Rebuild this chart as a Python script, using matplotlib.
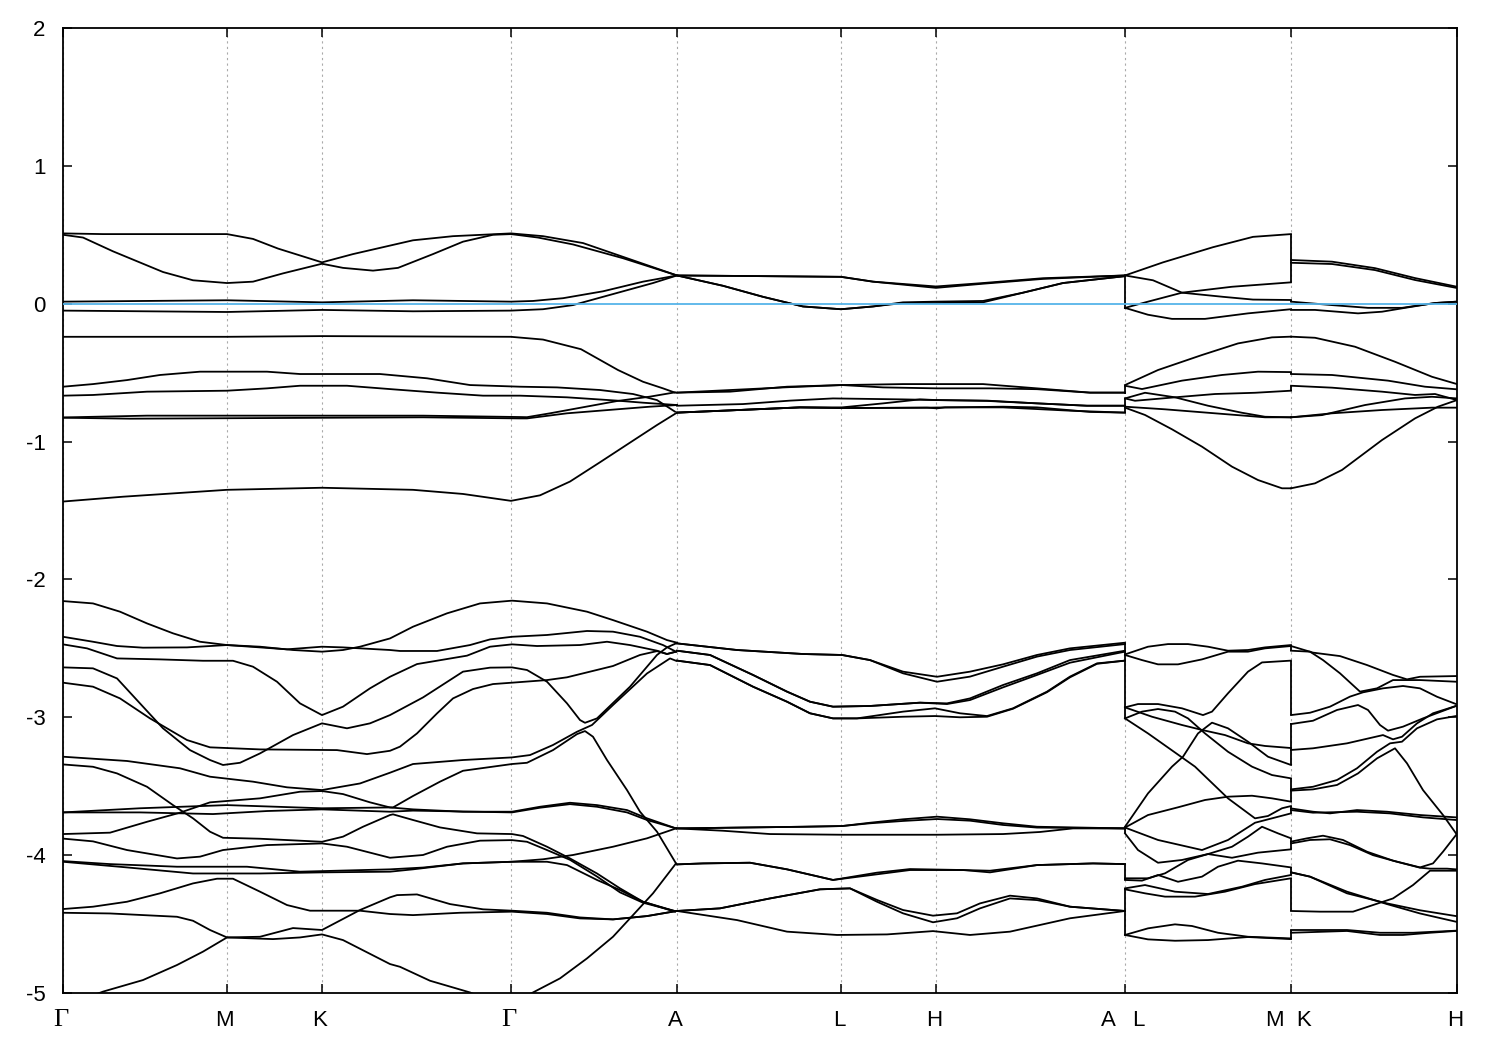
import matplotlib
matplotlib.use("Agg")
import matplotlib.pyplot as plt

# k is distance along the path, E is energy in eV
tick_k = [0, 164, 259, 448, 614, 778, 873, 1062, 1228, 1394]
tick_labels = ["Γ", "M", "K", "Γ", "A", "L", "H", "A   L", "M  K", "H"]
y_ticks = [2, 1, 0, -1, -2, -3, -4, -5]

# %% Top group, Gamma to A|L
a1_k = [0, 40, 164, 190, 215, 259, 290, 320, 350, 390, 448, 480, 520, 560, 614, 700, 778, 810, 873, 920, 980, 1062]
a1_e = [.51, .505, .505, .47, .40, .30, .36, .41, .46, .49, .51, .49, .44, .34, .205, .20, .195, .16, .115, .145, .18, .205]
a2_k = [0, 20, 50, 100, 130, 164, 190, 220, 259, 280, 310, 335, 370, 400, 430, 448, 475, 510, 560, 614, 660, 700, 740, 778, 810, 840, 873, 920, 960, 1000, 1062]
a2_e = [.50, .48, .38, .23, .17, .15, .16, .22, .29, .26, .24, .26, .36, .45, .50, .505, .48, .43, .33, .205, .13, .05, -.02, -.04, -.02, .01, .015, .02, .08, .15, .2]
a3_k = [0, 164, 259, 350, 448, 470, 500, 540, 580, 614, 700, 778, 810, 873, 920, 980, 1062]
a3_e = [.015, .025, .01, .025, .015, .02, .04, .09, .16, .205, .2, .195, .16, .125, .15, .185, .205]
a4_k = [0, 164, 259, 350, 448, 480, 510, 550, 590, 614, 660, 700, 740, 778, 810, 840, 873, 920, 960, 1000, 1062]
a4_e = [-.05, -.06, -.045, -.055, -.05, -.04, -.01, .07, .15, .205, .13, .05, -.02, -.04, -.02, .005, .005, .01, .08, .15, .2]

# top group, L to M
t1_k = [1062, 1100, 1150, 1190, 1228]
t1_e = [.205, .3, .41, .485, .505]
t2_k = [1062, 1090, 1119, 1160, 1190, 1228]
t2_e = [.205, .17, .08, .05, .03, .027]
t3_k = [1062, 1085, 1119, 1169, 1228]
t3_e = [-.03, .015, .08, .123, .155]
t4_k = [1062, 1085, 1109, 1142, 1185, 1228]
t4_e = [-.03, -.08, -.11, -.11, -.07, -.04]

# top group, K to H
u1_k = [1228, 1269, 1312, 1352, 1394]
u1_e = [.317, .305, .258, .186, .123]
u2_k = [1228, 1269, 1312, 1352, 1394]
u2_e = [.297, .288, .244, .172, .114]
u3_k = [1228, 1269, 1305, 1339, 1372, 1394]
u3_e = [.015, -.01, -.03, -.03, .005, .015]
u4_k = [1228, 1252, 1295, 1319, 1342, 1372, 1394]
u4_e = [-.045, -.045, -.07, -.058, -.03, .005, .015]

# %% Second group, Gamma to A
b1_k = [0, 164, 259, 448, 480, 518, 555, 580, 600, 612]
b1_e = [-.24, -.24, -.235, -.24, -.26, -.33, -.481, -.566, -.614, -.645]
b2_k = [0, 30, 64, 97, 137, 204, 237, 317, 364, 407, 457, 494, 537, 570, 594, 612]
b2_e = [-.602, -.583, -.554, -.517, -.493, -.493, -.51, -.51, -.541, -.59, -.602, -.607, -.626, -.655, -.699, -.783]
b3_k = [0, 30, 84, 164, 204, 237, 284, 330, 374, 420, 457, 504, 554, 580, 614]
b3_e = [-.667, -.662, -.638, -.631, -.614, -.595, -.595, -.621, -.645, -.667, -.667, -.679, -.703, -.718, -.735]
b4_k = [0, 84, 360, 457, 464, 487, 554, 587, 612]
b4_e = [-.825, -.812, -.812, -.822, -.823, -.795, -.706, -.674, -.643]
b5_k = [0, 67, 360, 457, 464, 504, 554, 587, 614]
b5_e = [-.827, -.834, -.824, -.832, -.832, -.795, -.766, -.747, -.735]
b6_k = [0, 60, 164, 259, 350, 400, 448, 477, 507, 537, 572, 594, 614]
b6_e = [-1.435, -1.40, -1.35, -1.335, -1.35, -1.38, -1.43, -1.39, -1.29, -1.15, -.984, -.88, -.79]

# second group, A to A
c1_k = [614, 667, 724, 779, 840, 874, 920, 974, 1027, 1062]
c1_e = [-.645, -.638, -.602, -.59, -.583, -.583, -.583, -.614, -.645, -.645]
c2_k = [614, 724, 779, 820, 874, 927, 974, 1027, 1062]
c2_e = [-.645, -.606, -.59, -.607, -.614, -.614, -.62, -.645, -.645]
c3_k = [614, 680, 727, 770, 840, 874, 924, 974, 1024, 1062]
c3_e = [-.74, -.728, -.703, -.687, -.694, -.699, -.703, -.723, -.74, -.74]
c4_k = [614, 660, 737, 779, 820, 857, 874, 924, 940, 1024, 1062]
c4_e = [-.79, -.776, -.752, -.752, -.723, -.694, -.699, -.705, -.711, -.74, -.74]
c5_k = [614, 660, 737, 779, 864, 874, 882, 940, 1007, 1062]
c5_e = [-.79, -.776, -.752, -.757, -.754, -.759, -.752, -.752, -.776, -.79]
c6_k = [614, 660, 737, 779, 864, 940, 974, 1027, 1062]
c6_e = [-.79, -.776, -.752, -.757, -.754, -.747, -.752, -.785, -.79]

# second group, L to M
g1_k = [1062, 1095, 1139, 1175, 1209, 1228]
g1_e = [-.59, -.481, -.372, -.288, -.244, -.239]
g2_k = [1062, 1079, 1119, 1159, 1195, 1228]
g2_e = [-.595, -.619, -.558, -.517, -.493, -.496]
g3_k = [1062, 1082, 1112, 1145, 1179, 1202, 1228]
g3_e = [-.687, -.646, -.679, -.74, -.791, -.82, -.824]
g4_k = [1062, 1072, 1112, 1152, 1192, 1228]
g4_e = [-.687, -.704, -.679, -.655, -.646, -.631]
g5_k = [1062, 1102, 1152, 1202, 1228]
g5_e = [-.747, -.766, -.795, -.824, -.824]
g6_k = [1062, 1082, 1109, 1139, 1169, 1195, 1219, 1228]
g6_e = [-.754, -.807, -.911, -1.037, -1.182, -1.279, -1.339, -1.339]

# second group, K to H
h1_k = [1228, 1252, 1292, 1332, 1369, 1394]
h1_e = [-.239, -.247, -.312, -.421, -.53, -.583]
h2_k = [1228, 1269, 1325, 1362, 1394]
h2_e = [-.51, -.517, -.558, -.602, -.621]
h3_k = [1228, 1269, 1319, 1352, 1372, 1394]
h3_e = [-.595, -.609, -.638, -.662, -.655, -.699]
h4_k = [1228, 1259, 1302, 1342, 1369, 1394]
h4_e = [-.824, -.808, -.735, -.687, -.675, -.687]
h5_k = [1228, 1269, 1319, 1369, 1394]
h5_e = [-.824, -.795, -.771, -.754, -.754]
h6_k = [1228, 1252, 1279, 1319, 1352, 1375, 1394]
h6_e = [-1.339, -1.303, -1.206, -.989, -.832, -.747, -.699]

# %% Lower bands, Gamma to A
d1_k = [0, 30, 57, 84, 110, 137, 164, 197, 230, 259, 280, 297, 327, 350, 384, 417, 449, 484, 524, 550, 584, 604, 614]
d1_e = [-2.157, -2.174, -2.234, -2.319, -2.391, -2.452, -2.476, -2.488, -2.512, -2.524, -2.512, -2.488, -2.428, -2.343, -2.246, -2.174, -2.154, -2.174, -2.234, -2.295, -2.379, -2.44, -2.459]
d2_k = [0, 30, 54, 80, 124, 164, 197, 224, 259, 280, 327, 337, 374, 407, 427, 449, 484, 524, 550, 577, 600, 613]
d2_e = [-2.416, -2.452, -2.483, -2.495, -2.493, -2.476, -2.493, -2.507, -2.488, -2.493, -2.512, -2.519, -2.519, -2.476, -2.435, -2.416, -2.403, -2.374, -2.379, -2.416, -2.476, -2.524]
d3_k = [0, 24, 54, 97, 140, 170, 190, 214, 237, 259, 280, 307, 327, 354, 404, 427, 449, 474, 517, 544, 567, 594, 604, 613]
d3_e = [-2.471, -2.5, -2.573, -2.58, -2.59, -2.59, -2.633, -2.742, -2.899, -2.984, -2.923, -2.79, -2.706, -2.614, -2.553, -2.488, -2.471, -2.483, -2.476, -2.452, -2.476, -2.517, -2.541, -2.524]
d4_k = [0, 30, 54, 80, 100, 127, 147, 160, 177, 197, 230, 259, 284, 307, 327, 360, 400, 427, 449, 464, 484, 504, 517, 522, 534, 567, 594, 604, 613]
d4_e = [-2.638, -2.645, -2.718, -2.923, -3.08, -3.238, -3.31, -3.346, -3.33, -3.262, -3.129, -3.044, -3.08, -3.044, -2.984, -2.856, -2.669, -2.64, -2.638, -2.657, -2.742, -2.899, -3.02, -3.04, -3.008, -2.778, -2.548, -2.493, -2.464]
d5_k = [0, 30, 57, 87, 124, 147, 197, 274, 304, 327, 337, 354, 374, 390, 410, 430, 449, 484, 504, 550, 577, 594, 604, 613]
d5_e = [-2.749, -2.778, -2.863, -3.008, -3.165, -3.218, -3.233, -3.238, -3.267, -3.243, -3.213, -3.117, -2.972, -2.863, -2.795, -2.759, -2.749, -2.73, -2.71, -2.628, -2.548, -2.52, -2.541, -2.524]
d6_k = [0, 64, 117, 147, 190, 224, 259, 297, 327, 350, 400, 449, 467, 490, 514, 529, 550, 584, 607, 613]
d6_e = [-3.286, -3.317, -3.37, -3.431, -3.467, -3.508, -3.528, -3.48, -3.402, -3.339, -3.31, -3.291, -3.274, -3.201, -3.105, -3.056, -2.911, -2.682, -2.573, -2.59]
d7_k = [0, 47, 84, 117, 147, 197, 237, 259, 280, 307, 327, 330, 350, 377, 400, 449, 464, 490, 514, 522, 530, 544, 564, 577, 594, 613]
d7_e = [-3.847, -3.837, -3.758, -3.692, -3.617, -3.588, -3.54, -3.535, -3.557, -3.617, -3.654, -3.654, -3.571, -3.467, -3.388, -3.339, -3.33, -3.238, -3.122, -3.1, -3.141, -3.31, -3.528, -3.685, -3.83, -4.06]
d8_k = [0, 30, 54, 84, 110, 130, 147, 160, 197, 259, 280, 300, 327, 330, 350, 377, 414, 449, 460, 484, 507, 534, 557, 580, 612]
d8_e = [-3.342, -3.359, -3.407, -3.504, -3.637, -3.733, -3.83, -3.874, -3.881, -3.903, -3.866, -3.794, -3.709, -3.704, -3.745, -3.799, -3.842, -3.847, -3.861, -3.939, -4.024, -4.133, -4.241, -4.338, -4.406]
d9_k = [0, 77, 164, 259, 327, 350, 400, 449, 477, 507, 534, 564, 584, 613]
d9_e = [-3.69, -3.66, -3.637, -3.66, -3.654, -3.668, -3.685, -3.685, -3.649, -3.62, -3.637, -3.673, -3.733, -3.806]
d10_k = [0, 77, 150, 204, 259, 327, 350, 449, 477, 507, 534, 564, 584, 613]
d10_e = [-3.69, -3.69, -3.702, -3.68, -3.668, -3.685, -3.677, -3.69, -3.656, -3.63, -3.649, -3.69, -3.745, -3.806]
d11_k = [0, 30, 64, 114, 137, 160, 204, 259, 284, 327, 360, 384, 417, 449, 464, 484, 507, 534, 557, 580, 612]
d11_e = [-3.88, -3.9, -3.963, -4.024, -4.011, -3.963, -3.927, -3.915, -3.939, -4.019, -3.999, -3.939, -3.895, -3.891, -3.903, -3.963, -4.034, -4.155, -4.27, -4.345, -4.406]
d12_k = [0, 47, 114, 184, 237, 327, 360, 400, 449, 480, 510, 550, 584, 613]
d12_e = [-4.043, -4.065, -4.084, -4.084, -4.12, -4.103, -4.09, -4.06, -4.048, -4.03, -3.999, -3.939, -3.878, -3.806]
d13_k = [0, 64, 130, 197, 259, 327, 350, 400, 449, 484, 504, 534, 557, 580, 612]
d13_e = [-4.048, -4.089, -4.133, -4.133, -4.125, -4.12, -4.103, -4.06, -4.048, -4.048, -4.072, -4.18, -4.253, -4.338, -4.41]
d14_k = [0, 30, 64, 97, 130, 154, 170, 197, 224, 247, 297, 327, 350, 397, 449, 484, 517, 550, 584, 613]
d14_e = [-4.391, -4.374, -4.338, -4.277, -4.205, -4.171, -4.171, -4.265, -4.362, -4.403, -4.403, -4.427, -4.435, -4.418, -4.41, -4.427, -4.459, -4.466, -4.442, -4.406]
d15_k = [0, 47, 114, 130, 147, 164, 197, 230, 259, 297, 327, 334, 354, 387, 420, 449, 484, 517, 550, 584, 613]
d15_e = [-4.418, -4.423, -4.447, -4.476, -4.543, -4.597, -4.592, -4.529, -4.543, -4.398, -4.306, -4.29, -4.285, -4.355, -4.393, -4.403, -4.418, -4.452, -4.466, -4.442, -4.406]
d16_k = [0, 40, 80, 114, 140, 164, 210, 237, 259, 280, 327, 337, 367, 407, 440, 470, 497, 524, 550, 570, 590, 613]
d16_e = [-5.1, -4.99, -4.906, -4.797, -4.7, -4.597, -4.609, -4.597, -4.575, -4.616, -4.79, -4.81, -4.911, -4.996, -5.1, -4.996, -4.894, -4.749, -4.592, -4.435, -4.277, -4.06]

# lower bands, A to A
e1_k = [614, 674, 740, 779, 807, 840, 874, 907, 940, 974, 1007, 1062]
e1_e = [-2.464, -2.512, -2.541, -2.548, -2.585, -2.669, -2.706, -2.669, -2.616, -2.548, -2.5, -2.459]
e2_k = [614, 674, 740, 779, 807, 840, 874, 907, 940, 974, 1007, 1062]
e2_e = [-2.464, -2.512, -2.541, -2.548, -2.585, -2.681, -2.742, -2.705, -2.633, -2.56, -2.512, -2.469]
e3_k = [614, 647, 690, 724, 747, 770, 807, 857, 884, 907, 940, 974, 1007, 1062]
e3_e = [-2.517, -2.548, -2.693, -2.814, -2.887, -2.923, -2.918, -2.894, -2.899, -2.863, -2.766, -2.681, -2.585, -2.517]
e4_k = [614, 647, 690, 724, 747, 770, 807, 857, 884, 907, 940, 974, 1007, 1062]
e4_e = [-2.517, -2.548, -2.693, -2.814, -2.887, -2.923, -2.918, -2.894, -2.904, -2.875, -2.783, -2.693, -2.604, -2.524]
e5_k = [614, 647, 690, 724, 747, 770, 794, 840, 872, 897, 924, 950, 984, 1007, 1034, 1062]
e5_e = [-2.589, -2.621, -2.778, -2.887, -2.971, -3.008, -3.008, -2.959, -2.935, -2.971, -2.991, -2.935, -2.814, -2.705, -2.609, -2.589]
e6_k = [614, 647, 690, 724, 747, 770, 794, 840, 872, 897, 924, 950, 984, 1007, 1034, 1062]
e6_e = [-2.589, -2.621, -2.778, -2.887, -2.971, -3.008, -3.008, -2.996, -2.991, -3.0, -2.996, -2.938, -2.818, -2.71, -2.612, -2.589]
e7_k = [614, 740, 779, 807, 840, 874, 907, 940, 974, 1062]
e7_e = [-3.806, -3.794, -3.789, -3.765, -3.74, -3.721, -3.74, -3.769, -3.794, -3.806]
e8_k = [614, 740, 779, 807, 840, 874, 907, 940, 974, 1062]
e8_e = [-3.806, -3.794, -3.789, -3.769, -3.752, -3.738, -3.75, -3.781, -3.8, -3.806]
e9_k = [614, 660, 707, 779, 874, 940, 977, 1010, 1062]
e9_e = [-3.806, -3.823, -3.847, -3.852, -3.852, -3.847, -3.832, -3.806, -3.806]
e10_k = [614, 640, 687, 724, 770, 814, 847, 900, 927, 974, 1030, 1062]
e10_e = [-4.067, -4.06, -4.055, -4.103, -4.18, -4.127, -4.101, -4.108, -4.125, -4.072, -4.06, -4.065]
e11_k = [614, 640, 687, 724, 770, 814, 847, 900, 927, 974, 1030, 1062]
e11_e = [-4.067, -4.06, -4.055, -4.103, -4.18, -4.139, -4.108, -4.108, -4.113, -4.072, -4.06, -4.065]
e12_k = [614, 657, 707, 757, 787, 814, 840, 870, 894, 917, 947, 974, 1007, 1062]
e12_e = [-4.405, -4.386, -4.314, -4.248, -4.241, -4.325, -4.398, -4.439, -4.422, -4.35, -4.294, -4.314, -4.374, -4.405]
e13_k = [614, 657, 707, 757, 787, 814, 840, 870, 894, 917, 947, 974, 1007, 1062]
e13_e = [-4.405, -4.386, -4.314, -4.248, -4.241, -4.338, -4.422, -4.487, -4.458, -4.386, -4.314, -4.326, -4.374, -4.405]
e14_k = [614, 674, 724, 774, 824, 870, 907, 947, 1007, 1062]
e14_e = [-4.405, -4.471, -4.555, -4.579, -4.575, -4.551, -4.579, -4.555, -4.458, -4.405]

# lower bands, L to M
p1_k = [1062, 1085, 1105, 1125, 1145, 1165, 1185, 1202, 1228]
p1_e = [-2.544, -2.488, -2.469, -2.469, -2.488, -2.517, -2.512, -2.493, -2.476]
p2_k = [1062, 1079, 1095, 1115, 1139, 1165, 1185, 1202, 1228]
p2_e = [-2.548, -2.585, -2.616, -2.616, -2.58, -2.524, -2.524, -2.5, -2.483]
p3_k = [1062, 1075, 1095, 1119, 1140, 1149, 1165, 1185, 1199, 1228]
p3_e = [-2.928, -2.904, -2.904, -2.935, -2.984, -2.959, -2.826, -2.669, -2.602, -2.589]
p4_k = [1062, 1079, 1095, 1112, 1125, 1142, 1165, 1189, 1209, 1228]
p4_e = [-3.008, -2.959, -2.94, -2.959, -3.008, -3.117, -3.25, -3.358, -3.419, -3.443]
p5_k = [1062, 1089, 1119, 1139, 1162, 1185, 1202, 1228]
p5_e = [-2.928, -2.996, -3.056, -3.092, -3.129, -3.189, -3.208, -3.223]
p6_k = [1062, 1085, 1117, 1132, 1165, 1192, 1205, 1219, 1228]
p6_e = [-3.008, -3.117, -3.281, -3.358, -3.588, -3.733, -3.716, -3.66, -3.644]
p7_k = [1062, 1085, 1109, 1120, 1135, 1149, 1165, 1185, 1205, 1228]
p7_e = [-3.794, -3.552, -3.358, -3.286, -3.117, -3.039, -3.08, -3.177, -3.286, -3.346]
p8_k = [1062, 1085, 1115, 1142, 1165, 1189, 1209, 1228]
p8_e = [-3.8, -3.709, -3.653, -3.6, -3.576, -3.569, -3.588, -3.612]
p9_k = [1062, 1095, 1139, 1165, 1192, 1209, 1228]
p9_e = [-3.8, -3.89, -3.963, -3.89, -3.765, -3.733, -3.697]
p10_k = [1062, 1075, 1095, 1119, 1145, 1169, 1185, 1199, 1215, 1228]
p10_e = [-3.842, -3.963, -4.055, -4.035, -3.992, -3.939, -3.866, -3.794, -3.842, -3.878]
p11_k = [1062, 1085, 1102, 1125, 1145, 1169, 1195, 1228]
p11_e = [-4.168, -4.168, -4.132, -4.035, -3.992, -4.019, -3.982, -3.958]
p12_k = [1062, 1079, 1095, 1115, 1139, 1155, 1175, 1199, 1228]
p12_e = [-4.18, -4.185, -4.144, -4.193, -4.156, -4.084, -4.04, -4.06, -4.089]
p13_k = [1062, 1082, 1112, 1145, 1179, 1202, 1228]
p13_e = [-4.241, -4.217, -4.265, -4.282, -4.229, -4.18, -4.144]
p14_k = [1062, 1082, 1102, 1132, 1162, 1192, 1228]
p14_e = [-4.248, -4.277, -4.301, -4.301, -4.265, -4.21, -4.168]
p15_k = [1062, 1085, 1112, 1129, 1155, 1185, 1228]
p15_e = [-4.579, -4.531, -4.502, -4.514, -4.563, -4.592, -4.604]
p16_k = [1062, 1085, 1112, 1145, 1185, 1228]
p16_e = [-4.579, -4.611, -4.621, -4.616, -4.594, -4.609]

# lower bands, K to H
q1_k = [1228, 1250, 1277, 1304, 1330, 1344, 1357, 1393]
q1_e = [-2.483, -2.531, -2.556, -2.621, -2.693, -2.725, -2.706, -2.701]
q2_k = [1228, 1247, 1260, 1277, 1297, 1314, 1330, 1357, 1393]
q2_e = [-2.517, -2.524, -2.585, -2.681, -2.814, -2.79, -2.73, -2.73, -2.742]
q3_k = [1228, 1247, 1267, 1287, 1300, 1320, 1340, 1357, 1374, 1393]
q3_e = [-2.984, -2.967, -2.923, -2.85, -2.819, -2.79, -2.773, -2.79, -2.851, -2.904]
q4_k = [1228, 1250, 1274, 1295, 1305, 1317, 1325, 1340, 1360, 1393]
q4_e = [-3.049, -3.025, -2.947, -2.911, -2.947, -3.056, -3.097, -3.068, -3.008, -2.918]
q5_k = [1228, 1250, 1284, 1320, 1330, 1339, 1354, 1370, 1393]
q5_e = [-3.237, -3.225, -3.189, -3.129, -3.16, -3.141, -3.044, -2.971, -2.918]
q6_k = [1228, 1250, 1274, 1294, 1314, 1327, 1339, 1354, 1374, 1393]
q6_e = [-3.523, -3.504, -3.455, -3.37, -3.25, -3.189, -3.177, -3.08, -3.015, -2.991]
q7_k = [1228, 1250, 1274, 1295, 1314, 1332, 1344, 1360, 1380, 1393]
q7_e = [-3.532, -3.523, -3.491, -3.407, -3.298, -3.225, -3.334, -3.528, -3.709, -3.842]
q8_k = [1228, 1250, 1267, 1294, 1324, 1357, 1393]
q8_e = [-3.661, -3.685, -3.697, -3.673, -3.685, -3.709, -3.726]
q9_k = [1228, 1250, 1294, 1327, 1360, 1393]
q9_e = [-3.673, -3.692, -3.685, -3.697, -3.726, -3.745]
q10_k = [1228, 1244, 1260, 1280, 1304, 1330, 1357, 1370, 1380, 1393]
q10_e = [-3.902, -3.878, -3.859, -3.89, -3.975, -4.04, -4.089, -4.06, -3.975, -3.854]
q11_k = [1228, 1247, 1267, 1287, 1310, 1334, 1357, 1367, 1384, 1393]
q11_e = [-3.915, -3.89, -3.885, -3.927, -4.0, -4.048, -4.091, -4.098, -4.098, -4.103]
q12_k = [1228, 1247, 1284, 1324, 1357, 1393]
q12_e = [-4.125, -4.156, -4.265, -4.355, -4.423, -4.483]
q13_k = [1228, 1257, 1290, 1330, 1350, 1367, 1393]
q13_e = [-4.405, -4.41, -4.41, -4.314, -4.217, -4.113, -4.113]
q14_k = [1228, 1247, 1284, 1324, 1357, 1393]
q14_e = [-4.125, -4.156, -4.277, -4.35, -4.4, -4.442]
q15_k = [1228, 1284, 1317, 1350, 1393]
q15_e = [-4.543, -4.543, -4.563, -4.563, -4.548]
q16_k = [1228, 1284, 1317, 1340, 1367, 1393]
q16_e = [-4.563, -4.55, -4.579, -4.579, -4.563, -4.55]

# steps where the path jumps, A|L and M|K
jump_k = [1062, 1062, 1062, 1062, 1062, 1062, 1062, 1062, 1228, 1228, 1228, 1228, 1228, 1228, 1228, 1228, 1228, 1228, 1228, 1228, 1228, 1228, 1228]
jump_hi = [.205, -.59, -.687, -2.459, -3.794, -4.065, -4.241, -.747, .505, .027, -.239, -.496, -.631, -.824, -2.476, -2.589, -3.044, -3.443, -3.644, -3.878, -4.089, -4.168, -4.543]
jump_lo = [-.04, -.655, -.74, -3.008, -3.842, -4.18, -4.579, -.79, .155, .015, -.239, -.51, -.595, -.824, -2.517, -2.984, -3.346, -3.612, -3.697, -3.958, -4.144, -4.405, -4.609]

curves = [
    (a1_k, a1_e), (a2_k, a2_e), (a3_k, a3_e), (a4_k, a4_e),
    (t1_k, t1_e), (t2_k, t2_e), (t3_k, t3_e), (t4_k, t4_e),
    (u1_k, u1_e), (u2_k, u2_e), (u3_k, u3_e), (u4_k, u4_e),
    (b1_k, b1_e), (b2_k, b2_e), (b3_k, b3_e), (b4_k, b4_e), (b5_k, b5_e), (b6_k, b6_e),
    (c1_k, c1_e), (c2_k, c2_e), (c3_k, c3_e), (c4_k, c4_e), (c5_k, c5_e), (c6_k, c6_e),
    (g1_k, g1_e), (g2_k, g2_e), (g3_k, g3_e), (g4_k, g4_e), (g5_k, g5_e), (g6_k, g6_e),
    (h1_k, h1_e), (h2_k, h2_e), (h3_k, h3_e), (h4_k, h4_e), (h5_k, h5_e), (h6_k, h6_e),
    (d1_k, d1_e), (d2_k, d2_e), (d3_k, d3_e), (d4_k, d4_e), (d5_k, d5_e), (d6_k, d6_e),
    (d7_k, d7_e), (d8_k, d8_e), (d9_k, d9_e), (d10_k, d10_e), (d11_k, d11_e), (d12_k, d12_e),
    (d13_k, d13_e), (d14_k, d14_e), (d15_k, d15_e), (d16_k, d16_e),
    (e1_k, e1_e), (e2_k, e2_e), (e3_k, e3_e), (e4_k, e4_e), (e5_k, e5_e), (e6_k, e6_e), (e7_k, e7_e),
    (e8_k, e8_e), (e9_k, e9_e), (e10_k, e10_e), (e11_k, e11_e), (e12_k, e12_e), (e13_k, e13_e), (e14_k, e14_e),
    (p1_k, p1_e), (p2_k, p2_e), (p3_k, p3_e), (p4_k, p4_e), (p5_k, p5_e), (p6_k, p6_e), (p7_k, p7_e), (p8_k, p8_e),
    (p9_k, p9_e), (p10_k, p10_e), (p11_k, p11_e), (p12_k, p12_e), (p13_k, p13_e), (p14_k, p14_e), (p15_k, p15_e), (p16_k, p16_e),
    (q1_k, q1_e), (q2_k, q2_e), (q3_k, q3_e), (q4_k, q4_e), (q5_k, q5_e), (q6_k, q6_e), (q7_k, q7_e), (q8_k, q8_e),
    (q9_k, q9_e), (q10_k, q10_e), (q11_k, q11_e), (q12_k, q12_e), (q13_k, q13_e), (q14_k, q14_e), (q15_k, q15_e), (q16_k, q16_e),
]

# %% Plot
plt.rcParams["font.family"] = ["Liberation Sans", "DejaVu Sans"]
plt.rcParams["axes.unicode_minus"] = False

fig = plt.figure(figsize=(15, 10.5), dpi=100)
ax = fig.add_axes([63 / 1500, 1 - 993 / 1050, 1394 / 1500, 965 / 1050])

for k, e in curves:
    ax.plot(k, e, color="black", lw=1.3, solid_joinstyle="round", zorder=3)
ax.vlines(jump_k, jump_lo, jump_hi, color="black", lw=1.3, zorder=3)
ax.axhline(0, color="#56b4e9", lw=1.3, zorder=4)

ax.set_xlim(0, 1394)
ax.set_ylim(-5, 2)
ax.set_xticks(tick_k)
ax.set_xticklabels([])
ax.set_yticks(y_ticks)
ax.set_yticklabels([str(v) for v in y_ticks], fontsize=16, va="center_baseline")

# x labels sit a little left of their ticks, the Gammas are in a serif face
for k, name in zip(tick_k, tick_labels):
    if name == "Γ":
        style = {"family": "Liberation Serif", "fontsize": 19}
    else:
        style = {"fontsize": 16}
    ax.annotate(name, (k, 0), xycoords=("data", "axes fraction"), xytext=(-1.5, -19.5),
                textcoords="offset points", ha="center", va="center", **style)

ax.grid(axis="x", color="#aaaaaa", ls=(0, (2, 3)), lw=0.8, zorder=1)
ax.tick_params(axis="both", direction="in", length=6.5, width=1.1, top=True, right=True)
ax.tick_params(axis="y", pad=12.5)
for s in ax.spines.values():
    s.set_linewidth(1.3)

fig.savefig("out.png", dpi=100)
